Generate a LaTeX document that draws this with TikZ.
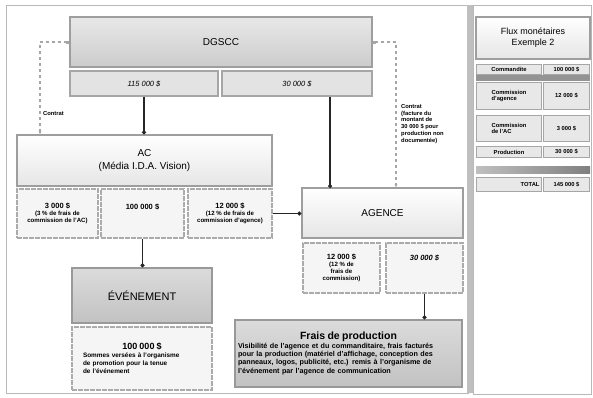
\documentclass[tikz,border=0pt]{standalone}
\usepackage{fontspec}
\setmainfont{Liberation Sans}
\usepackage{tikz}
\usetikzlibrary{arrows.meta,positioning}
\tikzset{
  flux-frame/.style={draw=black!28, line width=1pt},
  flux-main/.style={draw=black!38, line width=1.3pt, top color=black!9, bottom color=black!20,
    align=center, font=\fontsize{10}{12}\selectfont, inner sep=2pt},
  flux-light/.style={draw=black!38, line width=1.3pt, top color=white, bottom color=black!10,
    align=center, font=\fontsize{10}{12.5}\selectfont, inner sep=2pt},
  flux-dark/.style={draw=black!40, line width=1.3pt, top color=black!14, bottom color=black!24,
    align=center, inner sep=2pt},
  flux-amount/.style={draw=black!35, line width=1.2pt, fill=black!11,
    align=center, font=\fontsize{7.5}{9}\selectfont\itshape, inner sep=1pt},
  flux-sub/.style={draw=black!33, line width=1.1pt, dash pattern=on 5pt off 1pt, fill=black!4,
    align=center, font=\fontsize{6.1}{7.1}\selectfont\bfseries, inner sep=1pt},
  flux-note/.style={font=\fontsize{5.8}{6.8}\selectfont\bfseries, inner sep=0pt, align=left},
  flux-link/.style={draw=black!85, line width=1.2pt, -{Circle[length=4pt]}},
  flux-contract/.style={draw=black!35, line width=1.4pt, dashed, {Square[length=3pt]}-{Latex[length=4pt]}},
  flux-cell/.style={draw=black!35, line width=1pt, fill=black!9, align=left,
    font=\fontsize{5.8}{6.8}\selectfont\bfseries, inner sep=1pt},
  flux-band/.style={fill=black!42, draw=none}
}

\begin{document}
\begin{tikzpicture}[x=1pt, y=-1pt, >=Latex]
  \useasboundingbox (0,0) rectangle (593,397);
  % Panels
  \draw[flux-frame] (6,5) rectangle (468,393);
  \fill[black!25] (467,5) rectangle (473,393);
  \draw[flux-frame] (473,5) rectangle (591,394);

  % Payer
  \node[flux-main, minimum width=302pt, minimum height=50pt] (dgscc) at (221,42) {DGSCC};
  \node[flux-amount, minimum width=148pt, minimum height=25pt] (dgscc-ac) at (144,83.5) {115 000 \$};
  \node[flux-amount, minimum width=150pt, minimum height=25pt] (dgscc-ag) at (297,83.5) {30 000 \$};

  % Coordinating agency
  \node[flux-light, minimum width=255pt, minimum height=51pt] (ac) at (144.5,160.5) {AC\\(Média I.D.A. Vision)};
  \node[flux-sub, minimum width=81pt, minimum height=49pt] (ac-fee) at (57.5,213.5)
    {{\fontsize{7.5}{8.5}\selectfont 3 000 \$}\\(3 \% de frais de\\commission de l'AC)};
  \node[flux-sub, minimum width=83pt, minimum height=49pt] (ac-event) at (142.5,213.5)
    {{\fontsize{7.5}{8.5}\selectfont 100 000 \$}\\ ~\\ ~};
  \node[flux-sub, minimum width=84pt, minimum height=49pt] (ac-agency) at (230,213.5)
    {{\fontsize{7.5}{8.5}\selectfont 12 000 \$}\\(12 \% de frais de\\commission d'agence)};

  % Agency
  \node[flux-light, minimum width=161pt, minimum height=50pt] (agence) at (382.5,213) {AGENCE};
  \node[flux-sub, minimum width=77pt, minimum height=50pt] (ag-fee) at (341.5,268)
    {{\fontsize{7.5}{8.5}\selectfont 12 000 \$}\\(12 \% de\\frais de\\commission)};
  \node[flux-sub, minimum width=77pt, minimum height=50pt] (ag-prod) at (424.5,268)
    {{\fontsize{7.5}{8.5}\selectfont\itshape 30 000 \$}\\ ~\\ ~\\ ~};

  % Event
  \node[flux-dark, minimum width=140pt, minimum height=55pt, font=\fontsize{11}{13}\selectfont] (event) at (142,295.5) {ÉVÉNEMENT};
  \node[flux-sub, minimum width=140pt, minimum height=63pt, text width=118pt, align=left,
    font=\fontsize{6.4}{8}\selectfont\bfseries] (event-sum) at (142,358.5)
    {{\centering\fontsize{9}{11}\selectfont 100 000 \$\par}
     Sommes versées à l'organisme\\de promotion pour la tenue\\de l'événement};

  % Production costs
  \node[flux-dark, minimum width=227pt, minimum height=67pt, text width=221pt, align=left,
    font=\fontsize{7.2}{8.4}\selectfont\bfseries] (prod) at (348.5,353.5)
    {{\centering\fontsize{10.5}{12.5}\selectfont Frais de production\par}
     Visibilité de l'agence et du commanditaire, frais facturés\\
     pour la production (matériel d'affichage, conception des\\
     panneaux, logos, publicité, etc.) remis à l'organisme de\\
     l'événement par l'agence de communication};

  % Money flows
  \coordinate (agence-in) at (330,188);
  \draw[flux-link] (dgscc-ac.south) -- (dgscc-ac.south |- ac.north);
  \draw[flux-link] (dgscc-ag.south -| agence-in) -- (agence-in);
  \draw[flux-link] (ac-event.south) -- (ac-event.south |- event.north);
  \draw[flux-link] (ac-agency.east) -- (ac-agency.east -| agence.west);
  \draw[flux-link] (ag-prod.south) -- (ag-prod.south |- prod.north);

  % Contracts
  \coordinate (ac-top) at (40,135);
  \coordinate (agence-top) at (396,188);
  \draw[flux-contract] (dgscc.west) -| (ac-top);
  \draw[flux-contract] (dgscc.east) -| (agence-top);
  \node[flux-note, anchor=west] (contract-ac) at (43,113) {Contrat};
  \node[flux-note, anchor=north west] (contract-ag) at (401,104)
    {Contrat\\(facture du\\montant de\\30 000 \$ pour\\production non\\documentée)};

  % Summary table
  \node[flux-light, minimum width=114pt, minimum height=42pt, font=\fontsize{9}{11}\selectfont] (flux-title) at (533,38) {Flux monétaires\\Exemple 2};
  \node[flux-cell, minimum width=65pt, minimum height=10pt, anchor=west] (row-spons) at (476,69.5) {Commandite};
  \node[flux-cell, minimum width=46pt, minimum height=10pt, anchor=east, align=right] (row-spons-v) at (590,69.5) {100 000 \$};
  \node[flux-band, minimum width=114pt, minimum height=6pt] (band-a) at (533,78) {};
  \node[flux-cell, minimum width=65pt, minimum height=27pt, anchor=west] (row-agency) at (476,96) {Commission\\d'agence};
  \node[flux-cell, minimum width=46pt, minimum height=27pt, anchor=east, align=right] (row-agency-v) at (590,96) {12 000 \$};
  \node[flux-cell, minimum width=65pt, minimum height=26pt, anchor=west] (row-ac) at (476,128.5) {Commission\\de l'AC};
  \node[flux-cell, minimum width=46pt, minimum height=26pt, anchor=east, align=right] (row-ac-v) at (590,128.5) {3 000 \$};
  \node[flux-cell, minimum width=65pt, minimum height=11pt, anchor=west] (row-prod) at (476,152) {Production};
  \node[flux-cell, minimum width=46pt, minimum height=11pt, anchor=east, align=right] (row-prod-v) at (590,152) {30 000 \$};
  \node[flux-band, minimum width=114pt, minimum height=7pt, left color=black!25, right color=black!50] (band-b) at (533,170) {};
  \node[flux-cell, minimum width=65pt, minimum height=14pt, anchor=west, text width=61pt, align=right] (row-total) at (476,184.5) {TOTAL};
  \node[flux-cell, minimum width=46pt, minimum height=14pt, anchor=east, align=right] (row-total-v) at (590,184.5) {145 000 \$};
\end{tikzpicture}
\end{document}
